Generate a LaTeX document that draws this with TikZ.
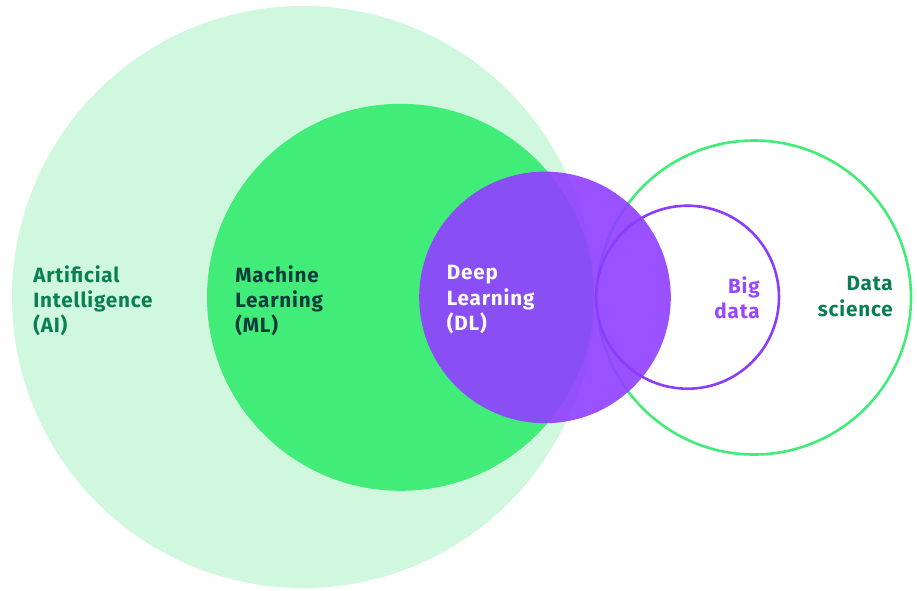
\documentclass[tikz,border=0pt]{standalone}
\usepackage{fontspec}
\setmainfont{Fira Sans}[LetterSpace=4]
\usepackage{xcolor}
\usepackage{tikz}
\usetikzlibrary{positioning, calc}

\definecolor{aigreen}{HTML}{CFF8DE}
\definecolor{mlgreen}{HTML}{41EC78}
\definecolor{dlpurple}{HTML}{9142FF}
\definecolor{bdpurple}{HTML}{8B3DFF}
\definecolor{txtgreen}{HTML}{0B7F51}
\definecolor{txtdark}{HTML}{0B3B3A}
\definecolor{txtpurple}{HTML}{9747FF}

\begin{document}
\begin{tikzpicture}[
    x=0.75pt, y=-0.75pt,
    lbl/.style={inner sep=0pt, align=left,
        font=\fontsize{15.5}{19.1}\selectfont\bfseries},
    lblr/.style={inner sep=0pt, align=right,
        font=\fontsize{15.5}{19.1}\selectfont\bfseries},
    ring/.style={line width=2.6pt*0.75}
]
\useasboundingbox (0,0) rectangle (917,590);

% ===== centres =====
\coordinate (ai) at (303,297);
\coordinate (ml) at (400.5,297.3);
\coordinate (dl) at (545,297.4);
\coordinate (ds) at (754,297.5);
\coordinate (bd) at (687.5,297.2);

% ===== filled sets =====
\fill[aigreen] (ai) circle (291);
\fill[mlgreen] (ml) circle (193.5);

% ===== outlined sets =====
\draw[ring, mlgreen] (ds) circle (157);
\fill[dlpurple, opacity=0.92] (dl) circle (125.8);
\draw[ring, bdpurple] (bd) circle (91.5);

% ===== labels =====
\node[lbl, anchor=north west, text=txtgreen] (ailbl) at (33,265)
    {Artificial\\Intelligence\\(AI)};
\node[lbl, anchor=north west, text=txtdark] (mllbl) at (235,265)
    {Machine\\Learning\\(ML)};
\node[lbl, anchor=north west, text=white] (dllbl) at (446.5,265)
    {Deep\\Learning\\(DL)};
\node[lblr, anchor=north east, text=txtpurple] (bdlbl) at (760,276.2)
    {Big\\data};
\node[lblr, anchor=north east, text=txtgreen] (dslbl) at (893,276.2)
    {Data\\science};
\end{tikzpicture}
\end{document}
